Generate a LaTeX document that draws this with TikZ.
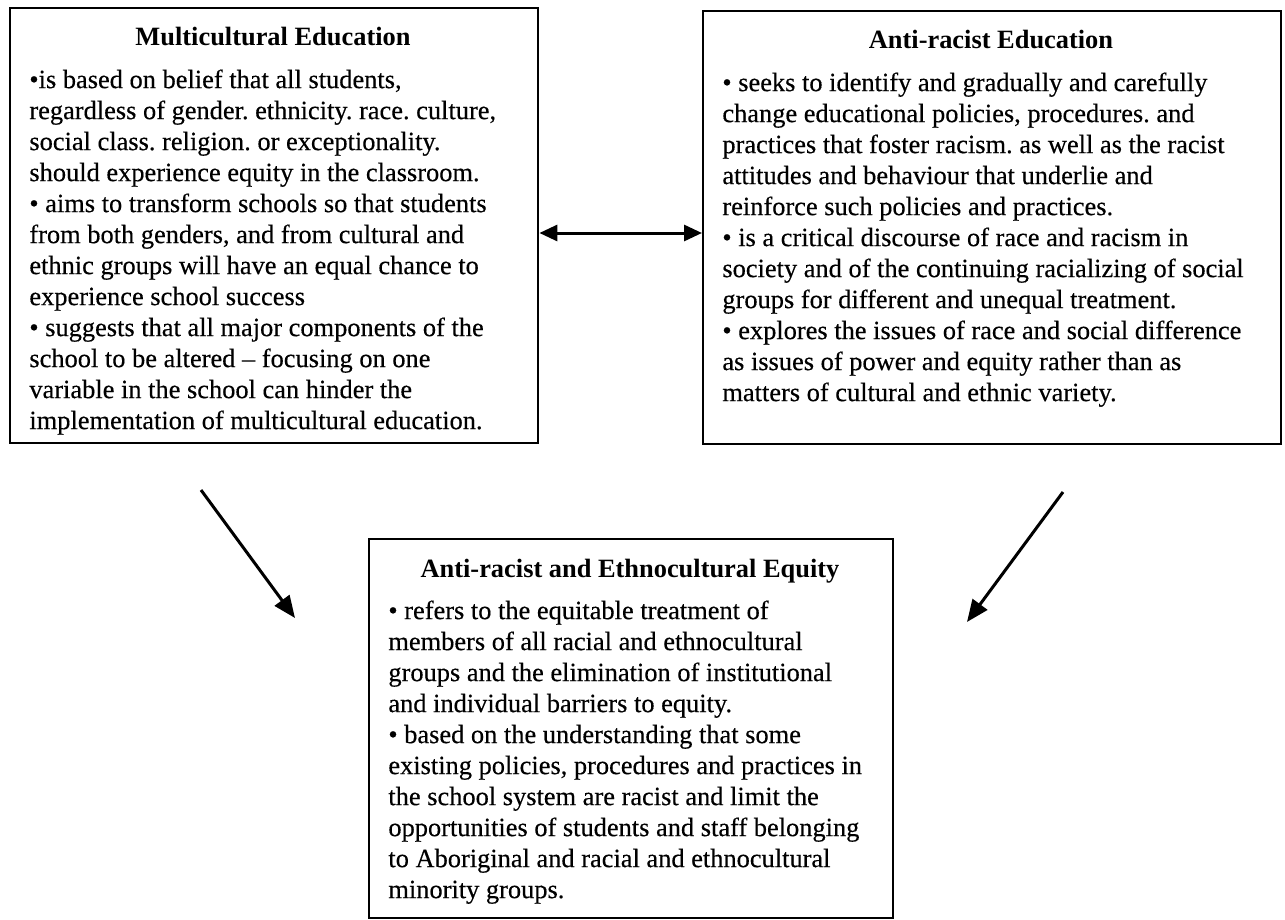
\documentclass[tikz,border=0pt]{standalone}
\usepackage{fontspec}
\setmainfont{Liberation Serif}
\newfontfamily\bodyfont{Liberation Serif}[FakeBold=0.35]
\usetikzlibrary{arrows.meta}
\frenchspacing
\begin{document}
\begin{tikzpicture}[x=0.5pt,y=-0.5pt,
  box/.style={draw, line width=1.2pt, inner sep=0pt, anchor=north west},
  ttl/.style={font=\fontsize{13.2}{15.5}\selectfont\bfseries, anchor=base, inner sep=0pt},
  body/.style={font=\bodyfont\fontsize{13.2}{15.5}\selectfont\frenchspacing, anchor=north west, inner sep=0pt, align=left},
  link/.style={line width=1.5pt, -{Triangle[length=11pt,width=9pt]}},
  dbl/.style={line width=1.5pt, {Triangle[length=9pt,width=8pt]}-{Triangle[length=9pt,width=8pt]}}
]
\useasboundingbox (0,0) rectangle (1285,920);

% boxes
\node[box, minimum width=264pt, minimum height=217.5pt] (me) at (9,7) {};
\node[box, minimum width=289pt, minimum height=216.5pt] (ae) at (702,10) {};
\node[box, minimum width=262pt, minimum height=189.5pt] (eq) at (368,538) {};

% titles
\node[ttl] (met) at (273,46) {Multicultural Education};
\node[ttl] (aet) at (991,49) {Anti-racist Education};
\node[ttl] (eqt) at (630,577) {Anti-racist and Ethnocultural Equity};

% bodies
\node[body] (meb) at (29,66) {\strut•is based on belief that all students,\\
regardless of gender. ethnicity. race. culture,\\
social class. religion. or exceptionality.\\
should experience equity in the classroom.\\
• aims to transform schools so that students\\
from both genders, and from cultural and\\
ethnic groups will have an equal chance to\\
experience school success\\
• suggests that all major components of the\\
school to be altered – focusing on one\\
variable in the school can hinder the\\
implementation of multicultural education.};

\node[body] (aeb) at (722,69) {\strut• seeks to identify and gradually and carefully\\
change educational policies, procedures. and\\
practices that foster racism. as well as the racist\\
attitudes and behaviour that underlie and\\
reinforce such policies and practices.\\
• is a critical discourse of race and racism in\\
society and of the continuing racializing of social\\
groups for different and unequal treatment.\\
• explores the issues of race and social difference\\
as issues of power and equity rather than as\\
matters of cultural and ethnic variety.};

\node[body] (eqb) at (388,597) {\strut• refers to the equitable treatment of\\
members of all racial and ethnocultural\\
groups and the elimination of institutional\\
and individual barriers to equity.\\
• based on the understanding that some\\
existing policies, procedures and practices in\\
the school system are racist and limit the\\
opportunities of students and staff belonging\\
to Aboriginal and racial and ethnocultural\\
minority groups.};

% connectors
\coordinate (dy) at (620,233);
\draw[dbl] (me.east |- dy) -- (ae.west |- dy);

\coordinate (a1) at (201,490);
\coordinate (a2) at (295,618);
\coordinate (b1) at (1063,492);
\coordinate (b2) at (967,622);
\draw[link] (a1) -- (a2);
\draw[link] (b1) -- (b2);
\end{tikzpicture}
\end{document}
